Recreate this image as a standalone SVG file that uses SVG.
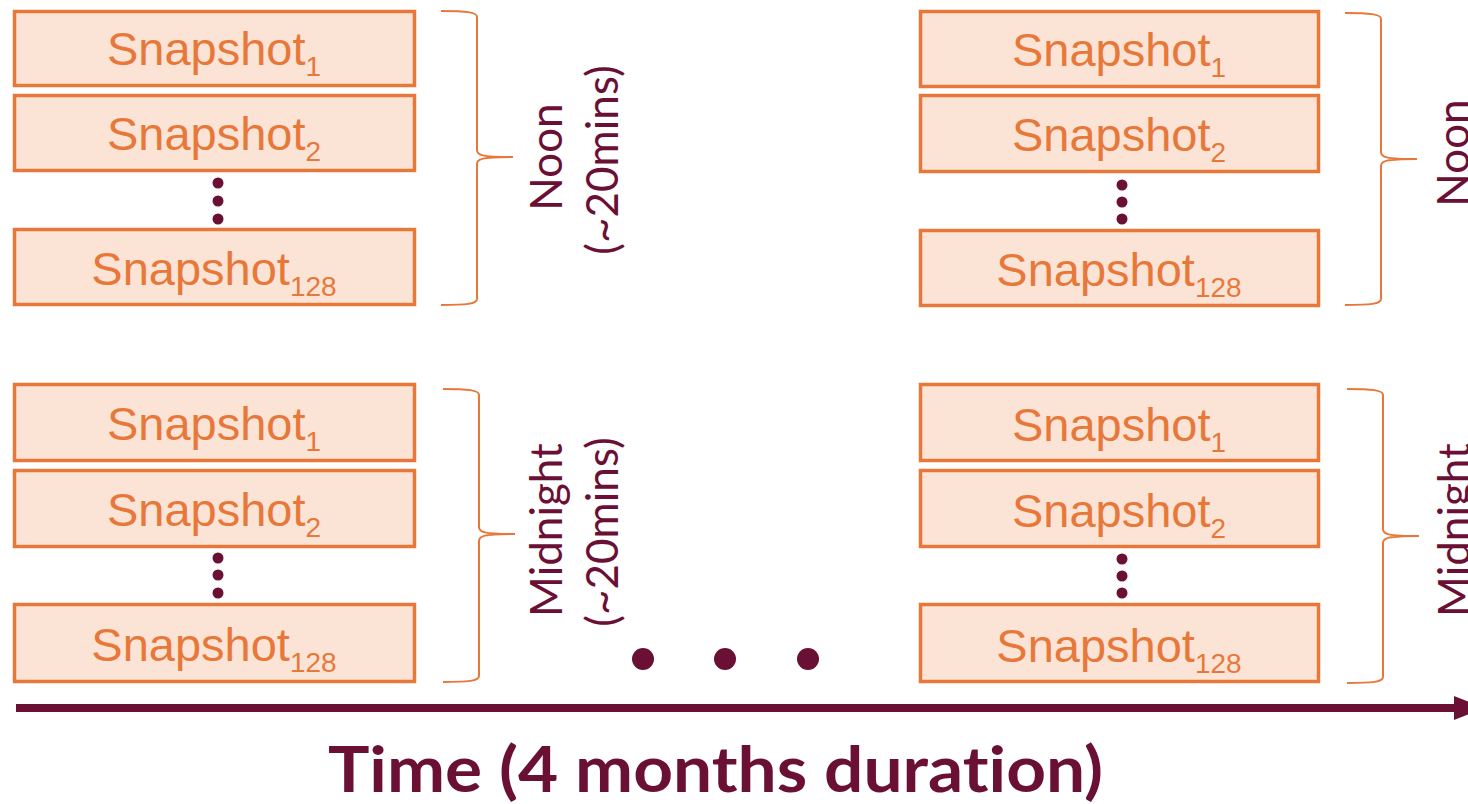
<svg xmlns="http://www.w3.org/2000/svg" width="1468" height="804" viewBox="0 0 1468 804">
  <style>
    .box { fill: #FBE4D6; stroke: #E8783A; stroke-width: 3.5; }
    .snap { font-family: "Liberation Sans", Arial, sans-serif; font-size: 47px; fill: #E8783A; text-anchor: middle; }
    .sub { font-size: 28px; }
    .brace { fill: none; stroke: #E8783A; stroke-width: 2; }
    .dot { fill: #6B1035; }
    .lbl { font-family: Lato, "Open Sans", sans-serif; font-size: 44px; fill: #6B1035; text-anchor: middle; }
    .title { font-family: Lato, "Open Sans", sans-serif; font-size: 64px; font-weight: 700; fill: #6B1035; font-variant-ligatures: none; }
  </style>
  <defs>
    <marker id="arrowhead" viewBox="0 0 30 24" refX="2" refY="12" markerWidth="30" markerHeight="24" markerUnits="userSpaceOnUse" orient="auto">
      <polygon points="0,0 30,12 0,24" fill="#6B1035"/>
    </marker>
  </defs>

  <!-- Noon block, first day -->
  <g id="noon-a-snap1">
    <rect class="box" x="14.5" y="11.5" width="400" height="74"/>
    <text class="snap" x="214" y="65">Snapshot<tspan class="sub" dy="11">1</tspan></text>
  </g>
  <g id="noon-a-snap2">
    <rect class="box" x="14.5" y="95.5" width="400" height="75"/>
    <text class="snap" x="214" y="150">Snapshot<tspan class="sub" dy="11">2</tspan></text>
  </g>
  <g id="noon-a-dots">
    <circle class="dot" cx="218" cy="183" r="5.5"/>
    <circle class="dot" cx="218" cy="201" r="5.5"/>
    <circle class="dot" cx="218" cy="219" r="5.5"/>
  </g>
  <g id="noon-a-snap128">
    <rect class="box" x="14.5" y="229.5" width="400" height="75"/>
    <text class="snap" x="214" y="285">Snapshot<tspan class="sub" dy="11">128</tspan></text>
  </g>
  <g id="noon-a-brace">
    <path class="brace" d="M441,11 C466,11 477,12 477,17 L477,150 C477,155 481,157 513,157 C481,157 477,159 477,164 L477,299 C477,304 466,305 441,305"/>
  </g>
  <g id="noon-a-label">
    <text class="lbl" transform="translate(562,157) rotate(-90)">Noon</text>
    <text class="lbl" transform="translate(618,160) rotate(-90)">(~20mins)</text>
  </g>

  <!-- Midnight block, first day -->
  <g id="midnight-a-snap1">
    <rect class="box" x="14.5" y="384.5" width="400" height="76"/>
    <text class="snap" x="214" y="440">Snapshot<tspan class="sub" dy="11">1</tspan></text>
  </g>
  <g id="midnight-a-snap2">
    <rect class="box" x="14.5" y="470.5" width="400" height="76"/>
    <text class="snap" x="214" y="526">Snapshot<tspan class="sub" dy="11">2</tspan></text>
  </g>
  <g id="midnight-a-dots">
    <circle class="dot" cx="218" cy="558" r="5.5"/>
    <circle class="dot" cx="218" cy="575" r="5.5"/>
    <circle class="dot" cx="218" cy="593" r="5.5"/>
  </g>
  <g id="midnight-a-snap128">
    <rect class="box" x="14.5" y="604.5" width="400" height="77"/>
    <text class="snap" x="214" y="661">Snapshot<tspan class="sub" dy="11">128</tspan></text>
  </g>
  <g id="midnight-a-brace">
    <path class="brace" d="M443,389 C468,389 479,390 479,395 L479,527 C479,532 483,534 515,534 C483,534 479,536 479,541 L479,676 C479,681 468,682 443,682"/>
  </g>
  <g id="midnight-a-label">
    <text class="lbl" transform="translate(562,530) rotate(-90)">Midnight</text>
    <text class="lbl" transform="translate(618,532) rotate(-90)">(~20mins)</text>
  </g>

  <!-- Elided days -->
  <g id="ellipsis">
    <circle class="dot" cx="643" cy="659" r="11"/>
    <circle class="dot" cx="725" cy="659" r="11"/>
    <circle class="dot" cx="808" cy="659" r="11"/>
  </g>

  <!-- Noon block, last day -->
  <g id="noon-b-snap1">
    <rect class="box" x="920.5" y="11.5" width="398" height="75"/>
    <text class="snap" x="1119" y="66">Snapshot<tspan class="sub" dy="11">1</tspan></text>
  </g>
  <g id="noon-b-snap2">
    <rect class="box" x="920.5" y="95.5" width="398" height="76"/>
    <text class="snap" x="1119" y="151">Snapshot<tspan class="sub" dy="11">2</tspan></text>
  </g>
  <g id="noon-b-dots">
    <circle class="dot" cx="1122" cy="185" r="5.5"/>
    <circle class="dot" cx="1122" cy="202" r="5.5"/>
    <circle class="dot" cx="1122" cy="219" r="5.5"/>
  </g>
  <g id="noon-b-snap128">
    <rect class="box" x="920.5" y="230.5" width="398" height="75"/>
    <text class="snap" x="1119" y="286">Snapshot<tspan class="sub" dy="11">128</tspan></text>
  </g>
  <g id="noon-b-brace">
    <path class="brace" d="M1345,13 C1370,13 1381,14 1381,19 L1381,152 C1381,157 1385,159 1417,159 C1385,159 1381,161 1381,166 L1381,299 C1381,304 1370,305 1345,305"/>
  </g>
  <g id="noon-b-label">
    <text class="lbl" transform="translate(1469,153) rotate(-90)">Noon</text>
  </g>

  <!-- Midnight block, last day -->
  <g id="midnight-b-snap1">
    <rect class="box" x="920.5" y="384.5" width="398" height="76"/>
    <text class="snap" x="1119" y="441">Snapshot<tspan class="sub" dy="11">1</tspan></text>
  </g>
  <g id="midnight-b-snap2">
    <rect class="box" x="920.5" y="470.5" width="398" height="76"/>
    <text class="snap" x="1119" y="527">Snapshot<tspan class="sub" dy="11">2</tspan></text>
  </g>
  <g id="midnight-b-dots">
    <circle class="dot" cx="1122" cy="559" r="5.5"/>
    <circle class="dot" cx="1122" cy="576" r="5.5"/>
    <circle class="dot" cx="1122" cy="593" r="5.5"/>
  </g>
  <g id="midnight-b-snap128">
    <rect class="box" x="920.5" y="604.5" width="398" height="77"/>
    <text class="snap" x="1119" y="662">Snapshot<tspan class="sub" dy="11">128</tspan></text>
  </g>
  <g id="midnight-b-brace">
    <path class="brace" d="M1347,389 C1372,389 1383,390 1383,395 L1383,529 C1383,534 1387,536 1419,536 C1387,536 1383,538 1383,543 L1383,677 C1383,682 1372,683 1347,683"/>
  </g>
  <g id="midnight-b-label">
    <text class="lbl" transform="translate(1470,530) rotate(-90)">Midnight</text>
  </g>

  <!-- Time axis -->
  <g id="connectors">
    <line x1="16" y1="708" x2="1456" y2="708" stroke="#6B1035" stroke-width="8" marker-end="url(#arrowhead)"/>
  </g>
  <g id="axis-title">
    <text class="title" x="328" y="792" textLength="775" lengthAdjust="spacingAndGlyphs">Time (4 months duration)</text>
  </g>
</svg>
